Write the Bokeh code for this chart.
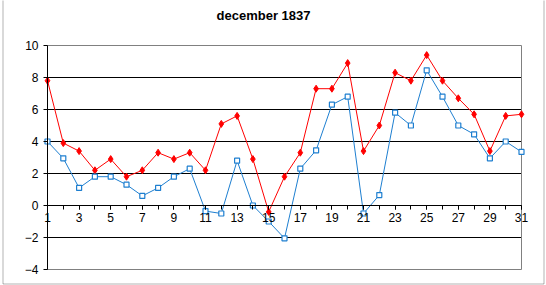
from bokeh.plotting import figure
from bokeh.models import (Range1d, FixedTicker, Label, BoxAnnotation, ColumnDataSource)
from bokeh.embed import file_html
from bokeh.resources import INLINE

title_text = "december 1837"
days = list(range(1, 32))
red_vals = [7.8, 3.9, 3.4, 2.2, 2.9, 1.8, 2.2, 3.3, 2.9, 3.3,
            2.2, 5.1, 5.6, 2.9, -0.4, 1.8, 3.3, 7.3, 7.3, 8.9,
            3.4, 5.0, 8.3, 7.8, 9.4, 7.8, 6.7, 5.7, 3.4, 5.6, 5.7]
blue_vals = [4.0, 2.95, 1.1, 1.8, 1.8, 1.3, 0.6, 1.1, 1.8, 2.3,
             -0.35, -0.5, 2.8, 0.0, -1.0, -2.05, 2.3, 3.45, 6.3, 6.8,
             -0.5, 0.65, 5.8, 5.0, 8.45, 6.8, 5.0, 4.45, 2.95, 4.0, 3.35]
x_tick_labels = list(range(1, 32, 2))
y_ticks = [-4, -2, 0, 2, 4, 6, 8, 10]
grid_lines = [-2, 0, 2, 4, 6, 8]

FONT = "Liberation Sans"
RED = "#FF0000"
BLUE = "#1E7FD0"

W, H = 546, 285
# pixel layout of the plot box inside the canvas
PX_L, PX_R, PX_T, PX_B = 47, 521, 45, 269
x0, x1 = days[0], days[-1]
y0, y1 = y_ticks[0], y_ticks[-1]
sx = (PX_R - PX_L) / (x1 - x0)
sy = (PX_B - PX_T) / (y1 - y0)
xr = Range1d(x0 - PX_L / sx, x1 + (W - PX_R) / sx)
yr = Range1d(y0 - (H - PX_B) / sy, y1 + PX_T / sy)

p = figure(width=W, height=H, output_backend="svg", toolbar_location=None,
           x_range=xr, y_range=yr,
           min_border_left=0, min_border_right=0, min_border_top=0,
           min_border_bottom=0)
p.background_fill_color = "white"
p.border_fill_color = "white"
p.outline_line_color = None
p.xgrid.visible = False
p.ygrid.visible = False

# horizontal grid lines, limited to the plot box
p.segment(x0=[x0] * len(grid_lines), x1=[x1] * len(grid_lines),
          y0=grid_lines, y1=grid_lines, line_color="black", line_width=1)

# plot box (gray)
p.quad(left=[x0], right=[x1], bottom=[y0], top=[y1], fill_color=None,
       line_color="#808080", line_width=1)

# y axis at x = 1
p.yaxis.fixed_location = x0
p.yaxis.bounds = (y0, y1)
p.yaxis.ticker = FixedTicker(ticks=y_ticks)
p.yaxis.axis_line_color = "black"
p.yaxis.major_tick_line_color = "black"
p.yaxis.major_tick_out = 4
p.yaxis.major_tick_in = 0
p.yaxis.minor_tick_line_color = None
p.yaxis.major_label_text_font = FONT
p.yaxis.major_label_text_font_size = "12px"
p.yaxis.major_label_text_color = "black"
p.yaxis.major_label_standoff = 5

# x axis crossing at 0
p.xaxis.fixed_location = 0
p.xaxis.bounds = (x0, x1)
p.xaxis.ticker = FixedTicker(ticks=x_tick_labels, minor_ticks=days)
p.xaxis.axis_line_color = "black"
p.xaxis.major_tick_line_color = "black"
p.xaxis.minor_tick_line_color = "black"
p.xaxis.major_tick_out = 4
p.xaxis.major_tick_in = 0
p.xaxis.minor_tick_out = 4
p.xaxis.minor_tick_in = 0
p.xaxis.major_label_text_font = FONT
p.xaxis.major_label_text_font_size = "12px"
p.xaxis.major_label_text_color = "black"
p.xaxis.major_label_standoff = 3

src = ColumnDataSource(dict(day=days, red=red_vals, blue=blue_vals))

p.line("day", "red", source=src, line_color=RED, line_width=1)
p.scatter("day", "red", source=src, marker="diamond", size=7,
          fill_color=RED, line_color=RED)
p.line("day", "blue", source=src, line_color=BLUE, line_width=1)
p.scatter("day", "blue", source=src, marker="square", size=5,
          fill_color="white", line_color=BLUE, line_width=1.2)

p.add_layout(Label(x=263, y=H - 15, x_units="screen", y_units="screen",
                   text=title_text, text_font=FONT, text_font_size="13px",
                   text_font_style="bold", text_align="center",
                   text_baseline="middle", text_color="black"))

# outer chart frame
p.add_layout(BoxAnnotation(left=2.5, right=543.5, top=H + 5, bottom=H - 283.5,
                           left_units="screen", right_units="screen",
                           top_units="screen", bottom_units="screen",
                           fill_color=None, line_color="black", line_width=1,
                           level="overlay"))

open("out.html", "w").write(file_html(p, INLINE))
